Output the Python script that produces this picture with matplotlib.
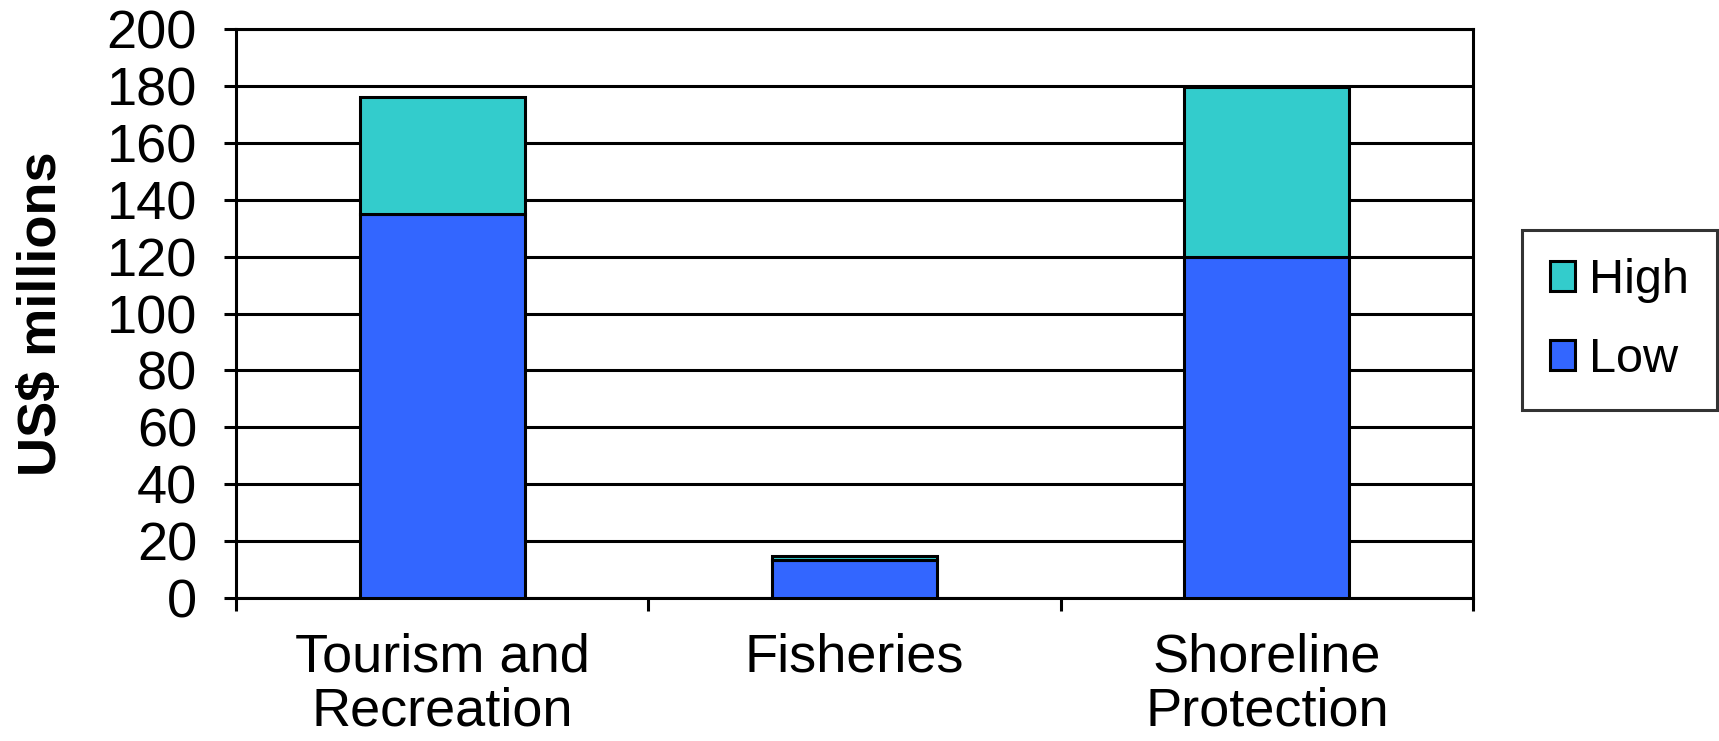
import numpy as np
import matplotlib.pyplot as plt
from matplotlib.patches import Patch

categories = ['Tourism and\nRecreation', 'Fisheries', 'Shoreline\nProtection']
low = [135, 13.5, 120]
high = [41, 1.2, 59.5]
series_names = ['High', 'Low']
colors = {'High': '#33CCCC', 'Low': '#3366FF'}
yticks = list(range(0, 201, 20))

plt.rcParams['font.family'] = ['Liberation Sans', 'DejaVu Sans']

fig = plt.figure(figsize=(17.19, 7.41), dpi=100)
ax = fig.add_axes([236/1719, 1-598/741, (1473-236)/1719, (598-29)/741])

x = np.arange(len(categories))
lw = 2.2
ax.bar(x, low, width=0.4, color=colors['Low'], edgecolor='black', linewidth=lw, zorder=3)
ax.bar(x, high, bottom=low, width=0.4, color=colors['High'], edgecolor='black', linewidth=lw, zorder=3)

ax.set_xlim(-0.5, 2.5)
ax.set_ylim(0, 200)
ax.set_yticks(yticks)
ax.set_yticklabels([str(v) for v in yticks], fontsize=39)
ax.yaxis.grid(True, color='black', linewidth=lw, zorder=0)
ax.set_axisbelow(True)

ax.set_xticks(x)
ax.set_xticklabels(categories, fontsize=39, linespacing=1.1)
ax.tick_params(axis='x', which='major', length=0, pad=25)
ax.set_xticks([-0.5, 0.5, 1.5, 2.5], minor=True)
ax.tick_params(axis='x', which='minor', length=9, width=lw, direction='out')
ax.tick_params(axis='y', length=9, width=lw, direction='out', pad=19)

for s in ax.spines.values():
    s.set_linewidth(lw)
    s.set_color('black')

ax.set_ylabel('US$ millions', fontsize=39, fontweight='bold')
ax.yaxis.set_label_coords(-0.137, 0.5)

handles = [Patch(facecolor=colors[n], edgecolor='black', linewidth=lw) for n in series_names]
leg = fig.legend(handles, series_names, loc='upper left',
                 bbox_to_anchor=(1522/1719, 1-230/741), fontsize=35,
                 frameon=True, fancybox=False, shadow=False,
                 handlelength=0.5, handleheight=0.55, handletextpad=0.3,
                 labelspacing=0.7, borderpad=0.58, borderaxespad=0)
leg.get_frame().set_edgecolor('black')
leg.get_frame().set_linewidth(lw)

fig.savefig('out.png', dpi=100)
